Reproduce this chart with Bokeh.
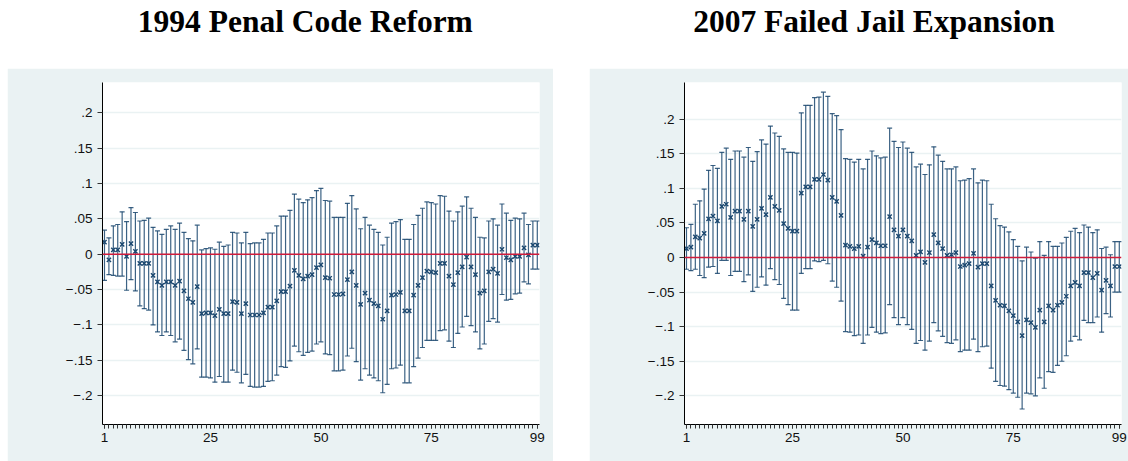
from bokeh.plotting import figure
from bokeh.models import Range1d, FixedTicker, Span, Spacer, ColumnDataSource
from bokeh.layouts import row, column
from bokeh.embed import file_html
from bokeh.resources import INLINE
from bokeh.core.properties import value

# ---------------- data ----------------
periods = list(range(1, 100))

titles = ["1994 Penal Code Reform", "2007 Failed Jail Expansion"]

est_1994 = [0.017, -0.008, 0.006, 0.006, 0.014, -0.003, 0.015, 0.004, -0.013, -0.013,
            -0.013, -0.030, -0.039, -0.044, -0.039, -0.039, -0.044, -0.038, -0.052, -0.063,
            -0.068, -0.046, -0.084, -0.083, -0.083, -0.087, -0.078, -0.084, -0.084, -0.067,
            -0.068, -0.084, -0.070, -0.086, -0.086, -0.086, -0.083, -0.075, -0.075, -0.066,
            -0.053, -0.053, -0.045, -0.023, -0.030, -0.035, -0.031, -0.029, -0.019, -0.015,
            -0.033, -0.034, -0.057, -0.057, -0.056, -0.036, -0.025, -0.044, -0.071, -0.055,
            -0.065, -0.070, -0.073, -0.092, -0.080, -0.058, -0.057, -0.054, -0.080, -0.080,
            -0.058, -0.044, -0.033, -0.024, -0.025, -0.026, -0.013, -0.013, -0.031, -0.043,
            -0.026, -0.018, -0.004, -0.018, -0.029, -0.055, -0.052, -0.025, -0.021, -0.027,
            0.007, -0.005, -0.008, -0.003, -0.003, 0.009, -0.001, 0.013, 0.013]
hi_1994 = [0.034, 0.023, 0.040, 0.042, 0.060, 0.046, 0.066, 0.059, 0.047, 0.048,
           0.051, 0.038, 0.033, 0.028, 0.035, 0.040, 0.035, 0.044, 0.031, 0.022,
           0.019, 0.041, 0.006, 0.008, 0.009, 0.007, 0.017, 0.011, 0.013, 0.031,
           0.030, 0.016, 0.031, 0.015, 0.016, 0.016, 0.021, 0.030, 0.030, 0.040,
           0.054, 0.054, 0.062, 0.085, 0.078, 0.073, 0.077, 0.080, 0.090, 0.093,
           0.076, 0.075, 0.052, 0.052, 0.052, 0.072, 0.083, 0.064, 0.036, 0.052,
           0.041, 0.035, 0.031, 0.013, 0.024, 0.044, 0.046, 0.049, 0.021, 0.021,
           0.042, 0.055, 0.065, 0.074, 0.073, 0.071, 0.083, 0.082, 0.061, 0.047,
           0.060, 0.068, 0.081, 0.065, 0.052, 0.024, 0.023, 0.047, 0.050, 0.041,
           0.071, 0.058, 0.048, 0.051, 0.050, 0.058, 0.042, 0.047, 0.047]
lo_1994 = [-0.037, -0.029, -0.030, -0.031, -0.031, -0.051, -0.036, -0.052, -0.073, -0.077,
           -0.079, -0.100, -0.110, -0.115, -0.110, -0.115, -0.124, -0.120, -0.136, -0.149,
           -0.155, -0.134, -0.174, -0.174, -0.175, -0.181, -0.173, -0.181, -0.181, -0.164,
           -0.167, -0.182, -0.170, -0.187, -0.188, -0.188, -0.187, -0.180, -0.179, -0.171,
           -0.159, -0.160, -0.151, -0.130, -0.138, -0.143, -0.139, -0.137, -0.127, -0.124,
           -0.141, -0.142, -0.165, -0.165, -0.164, -0.144, -0.133, -0.152, -0.178, -0.162,
           -0.171, -0.175, -0.179, -0.196, -0.184, -0.162, -0.161, -0.157, -0.182, -0.182,
           -0.159, -0.147, -0.132, -0.122, -0.122, -0.122, -0.108, -0.107, -0.123, -0.132,
           -0.112, -0.103, -0.088, -0.101, -0.110, -0.134, -0.127, -0.095, -0.091, -0.096,
           -0.057, -0.065, -0.064, -0.056, -0.055, -0.039, -0.042, -0.021, -0.021]

est_2007 = [0.013, 0.015, 0.030, 0.028, 0.035, 0.056, 0.060, 0.053, 0.074, 0.077,
            0.058, 0.067, 0.067, 0.055, 0.067, 0.045, 0.055, 0.071, 0.062, 0.087,
            0.074, 0.068, 0.049, 0.042, 0.038, 0.038, 0.093, 0.102, 0.102, 0.113,
            0.113, 0.120, 0.112, 0.087, 0.081, 0.061, 0.018, 0.016, 0.013, 0.016,
            0.002, 0.015, 0.026, 0.021, 0.017, 0.017, 0.059, 0.040, 0.031, 0.040,
            0.031, 0.024, 0.003, 0.008, -0.007, 0.007, 0.033, 0.021, 0.013, 0.003,
            0.004, 0.007, -0.013, -0.011, -0.009, 0.006, -0.014, -0.009, -0.009, -0.041,
            -0.062, -0.069, -0.070, -0.077, -0.084, -0.093, -0.113, -0.090, -0.094, -0.101,
            -0.076, -0.093, -0.070, -0.076, -0.069, -0.065, -0.056, -0.041, -0.036, -0.041,
            -0.022, -0.022, -0.029, -0.023, -0.047, -0.033, -0.041, -0.013, -0.013]
hi_2007 = [0.043, 0.048, 0.077, 0.082, 0.099, 0.126, 0.133, 0.129, 0.152, 0.158,
           0.142, 0.154, 0.154, 0.145, 0.159, 0.139, 0.153, 0.170, 0.164, 0.190,
           0.180, 0.175, 0.157, 0.152, 0.152, 0.151, 0.209, 0.220, 0.220, 0.231,
           0.232, 0.239, 0.233, 0.208, 0.205, 0.185, 0.143, 0.142, 0.138, 0.142,
           0.128, 0.142, 0.154, 0.147, 0.144, 0.145, 0.187, 0.168, 0.159, 0.167,
           0.158, 0.152, 0.131, 0.135, 0.120, 0.134, 0.160, 0.148, 0.139, 0.128,
           0.128, 0.131, 0.111, 0.112, 0.114, 0.128, 0.108, 0.112, 0.111, 0.077,
           0.056, 0.046, 0.044, 0.037, 0.026, 0.016, -0.005, 0.015, 0.008, -0.001,
           0.023, 0.003, 0.023, 0.016, 0.016, 0.021, 0.029, 0.038, 0.042, 0.036,
           0.047, 0.044, 0.036, 0.040, 0.013, 0.015, 0.004, 0.023, 0.023]
lo_2007 = [-0.017, -0.019, -0.017, -0.026, -0.029, -0.014, -0.013, -0.023, -0.004, -0.004,
           -0.026, -0.020, -0.020, -0.035, -0.025, -0.049, -0.043, -0.028, -0.040, -0.016,
           -0.032, -0.039, -0.059, -0.068, -0.076, -0.076, -0.023, -0.016, -0.016, -0.005,
           -0.006, -0.004, -0.009, -0.034, -0.043, -0.063, -0.107, -0.108, -0.113, -0.112,
           -0.124, -0.112, -0.101, -0.108, -0.110, -0.109, -0.068, -0.087, -0.097, -0.087,
           -0.097, -0.104, -0.124, -0.120, -0.134, -0.121, -0.094, -0.106, -0.114, -0.123,
           -0.124, -0.119, -0.136, -0.134, -0.134, -0.118, -0.136, -0.129, -0.128, -0.160,
           -0.179, -0.185, -0.186, -0.191, -0.196, -0.202, -0.219, -0.196, -0.197, -0.200,
           -0.174, -0.189, -0.165, -0.166, -0.156, -0.150, -0.142, -0.121, -0.114, -0.119,
           -0.091, -0.094, -0.094, -0.086, -0.108, -0.081, -0.086, -0.050, -0.050]

x_ticks = [1, 25, 50, 75, 99]
y_ticks = [-0.2, -0.15, -0.1, -0.05, 0, 0.05, 0.1, 0.15, 0.2]
y_tick_labels = ["\u2212.2", "\u2212.15", "\u2212.1", "\u2212.05", "0", ".05", ".1", ".15", ".2"]

# ---------------- style ----------------
BG = "#EAF2F3"
NAVY = "#1A476F"
RED = "#D01C3C"
TICK_FONT = "Liberation Sans"
TITLE_H = 68
PLOT_H = 393


def title_fig(text, width, bl, br, x_start):
    # frame borders match the panel below so the column's frame alignment is a no-op;
    # x range is expressed in canvas pixels of this figure
    t = figure(width=width, height=TITLE_H, output_backend="svg", toolbar_location=None,
               title=None, x_axis_type=None, y_axis_type=None,
               x_range=Range1d(bl, width - br), y_range=Range1d(0, TITLE_H),
               min_border_left=bl, min_border_right=br, min_border_top=0,
               min_border_bottom=0)
    t.grid.visible = False
    t.outline_line_color = None
    t.background_fill_color = "white"
    t.border_fill_color = "white"
    t.text(x=[x_start], y=[TITLE_H - 20.5], text=[text], text_align="left",
           text_baseline="alphabetic", text_font=value("Liberation Serif"),
           text_font_style="bold", text_font_size="31.5px", text_color="black")
    return t


def panel(est, lo, hi, width, bl, br, yr):
    p = figure(width=width, height=PLOT_H, output_backend="svg", toolbar_location=None,
               title=None, x_range=Range1d(0.55, 99.5), y_range=Range1d(*yr),
               min_border_left=bl, min_border_right=br, min_border_top=14,
               min_border_bottom=37)
    p.background_fill_color = "white"
    p.border_fill_color = BG
    p.outline_line_color = None
    p.xgrid.visible = False
    p.ygrid.ticker = FixedTicker(ticks=y_ticks)
    p.ygrid.grid_line_color = BG
    p.ygrid.grid_line_width = 1.5

    src = ColumnDataSource(dict(x=periods, est=est, lo=lo, hi=hi))
    p.segment(x0="x", y0="lo", x1="x", y1="hi", source=src, line_color=NAVY,
              line_width=1.2, line_alpha=0.85)
    p.dash(x="x", y="hi", source=src, size=5, line_color=NAVY, line_width=1.2, line_alpha=0.85)
    p.dash(x="x", y="lo", source=src, size=5, line_color=NAVY, line_width=1.2, line_alpha=0.85)
    p.scatter(x="x", y="est", source=src, marker="x", size=6, line_color=NAVY, line_width=1.4)

    p.add_layout(Span(location=0, dimension="width", line_color=RED, line_width=1.5))

    xa = p.xaxis[0]
    xa.ticker = FixedTicker(ticks=x_ticks, minor_ticks=periods)
    xa.axis_line_color = "black"
    xa.major_tick_line_color = "#333333"
    xa.minor_tick_line_color = "#333333"
    xa.major_tick_out = 4
    xa.major_tick_in = 0
    xa.minor_tick_out = 4
    xa.minor_tick_in = 0
    xa.major_label_text_font = TICK_FONT
    xa.major_label_text_font_size = "13.5px"
    xa.major_label_text_color = "#111111"
    xa.major_label_standoff = 4

    ya = p.yaxis[0]
    ya.ticker = FixedTicker(ticks=y_ticks)
    ya.major_label_overrides = {t: l for t, l in zip(y_ticks, y_tick_labels)}
    ya.axis_line_color = "black"
    ya.major_tick_line_color = "#333333"
    ya.major_tick_out = 5
    ya.major_tick_in = 0
    ya.minor_tick_line_color = None
    ya.major_label_text_font = TICK_FONT
    ya.major_label_text_font_size = "13.5px"
    ya.major_label_text_color = "#111111"
    ya.major_label_standoff = 5
    ya.major_label_orientation = "horizontal"
    return p


left = column(title_fig(titles[0], 546, 95, 14, 130.3),
              panel(est_1994, lo_1994, hi_1994, 546, 95, 14, (-0.2409, 0.2429)),
              spacing=0)
right = column(title_fig(titles[1], 539, 95, 7, 103.7),
               panel(est_2007, lo_2007, hi_2007, 539, 95, 7, (-0.2414, 0.2530)),
               spacing=0)
layout = row(Spacer(width=7, height=TITLE_H + PLOT_H), left,
             Spacer(width=36, height=TITLE_H + PLOT_H), right, spacing=0)

open("out.html", "w").write(file_html(layout, INLINE))
